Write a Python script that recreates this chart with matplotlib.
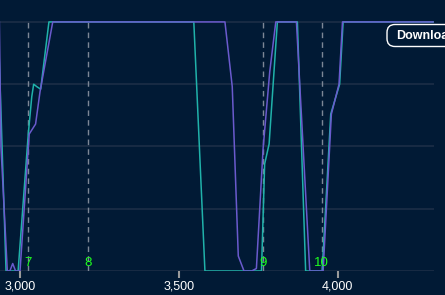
import matplotlib.pyplot as plt
from matplotlib.patches import FancyBboxPatch

# datos
teal_x = [2931, 2956, 2994, 3026, 3037, 3043, 3053, 3065, 3091, 3547, 3582, 3760,
          3770, 3784, 3810, 3873, 3899, 3951, 3978, 4006, 4017, 4300]
teal_y = [100, 0, 0, 55, 70, 75, 74, 73, 100, 100, 0, 0,
          43, 51, 100, 100, 0, 0, 63, 75, 100, 100]

purple_x = [2935, 2940, 2960, 2968, 2977, 2986, 3000, 3029, 3049, 3063, 3103, 3645,
            3668, 3687, 3705, 3729, 3744, 3765, 3786, 3805, 3870, 3912, 3954, 3980,
            4004, 4015, 4300]
purple_y = [100, 50, 0, 0, 3, 0, 0, 55, 59, 72, 100, 100,
            74, 6, 0, 0, 1, 49, 80, 100, 100, 0, 0, 63,
            75, 100, 100]

marker_x = [3024, 3213, 3766, 3949]
marker_labels = ['7', '8', '9', '10']

xticks = [3000, 3500, 4000]
xtick_labels = ['3,000', '3,500', '4,000']
yticks = [0, 25, 50, 75, 100]

bg = '#011a35'
grid = '#1c2e46'

fig = plt.figure(figsize=(4.45, 2.95), dpi=100)
fig.patch.set_facecolor(bg)
ax = fig.add_axes([0, 1 - 271 / 295, 434 / 445, 271 / 295])
ax.set_facecolor(bg)

ax.set_xlim(2937, 4303)
ax.set_ylim(0, 108.8)

for y in yticks:
    ax.axhline(y, color=grid, lw=1.2, zorder=1)

# lineas punteadas de los eventos
for xm, lab in zip(marker_x, marker_labels):
    ln = ax.axvline(xm, ymin=0, ymax=0.927, color='#7d8796', lw=1, zorder=2)
    ln.set_dashes([4, 3])
    ax.text(xm, 1, lab, color='#1eff1e', fontsize=9.5, family='Liberation Sans',
            ha='center', va='bottom', zorder=5)

ax.plot(teal_x, teal_y, color='#20b2aa', lw=1.1, zorder=3)
ax.plot(purple_x, purple_y, color='#6a5acd', lw=1.1, zorder=4)

ax.set_xticks(xticks)
ax.set_xticklabels(xtick_labels, family='Liberation Sans', fontsize=9, color='white')
ax.set_yticks([])
ax.tick_params(axis='x', length=5, width=1.5, color='#9a9a9a', pad=2)
for s in ax.spines.values():
    s.set_visible(False)

# boton de descarga (cortado en el borde como en el original)
box = FancyBboxPatch((387, 295 - 46.5), 80, 22, boxstyle='round,pad=0,rounding_size=8',
                     transform=None, facecolor=bg, edgecolor='white', lw=1, zorder=10)
fig.patches.append(box)
fig.text(396 / 445, 1 - 36 / 295, 'Download', color='white', fontsize=9,
         fontweight='bold', family='Liberation Sans', va='center', ha='left', zorder=11)

fig.savefig('out.png', dpi=100, facecolor=bg)
